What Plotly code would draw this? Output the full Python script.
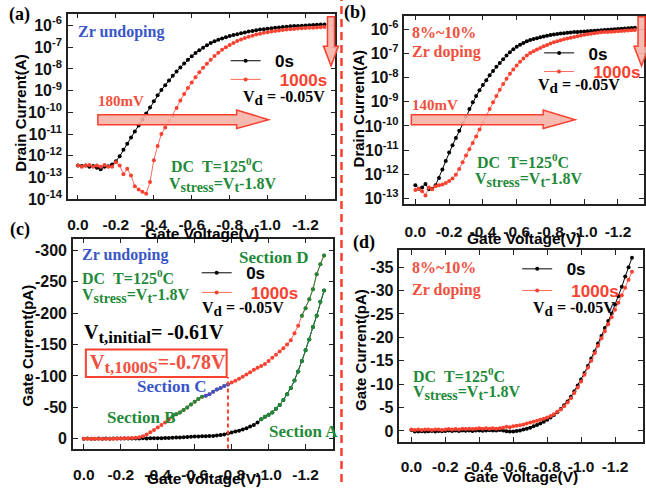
import numpy as np
import plotly.graph_objects as go

W, H = 646, 491
SANS = "Liberation Sans"
SERIF = "Liberation Serif"
RED = "#f8412f"
RED_LINE = "#ff6a58"
GREEN = "#1f8a3a"
BLUE = "#3a56c8"
TEXT_RED = "#f2503e"
AXIS = "#222222"

# Gate-voltage sweep (V)
VG = [0.00, -0.02, -0.04, -0.06, -0.08, -0.10, -0.12, -0.14, -0.16, -0.18,
      -0.20, -0.22, -0.24, -0.26, -0.28, -0.30, -0.32, -0.34, -0.36, -0.38,
      -0.40, -0.42, -0.44, -0.46, -0.48, -0.50, -0.52, -0.54, -0.56, -0.58,
      -0.60, -0.62, -0.64, -0.66, -0.68, -0.70, -0.72, -0.74, -0.76, -0.78,
      -0.80, -0.82, -0.84, -0.86, -0.88, -0.90, -0.92, -0.94, -0.96, -0.98,
      -1.00, -1.02, -1.04, -1.06, -1.08, -1.10, -1.12, -1.14, -1.16, -1.18,
      -1.20, -1.22, -1.24, -1.26, -1.28, -1.30]

# (a) Zr undoped: log10 of drain current (A)
LOG_ID_A_0S = [-12.45, -12.47, -12.45, -12.50, -12.47, -12.55, -12.62, -12.50, -12.48, -12.40,
               -12.25, -12.02, -11.72, -11.44, -11.16, -10.88, -10.60, -10.33, -10.05, -9.77,
               -9.49, -9.21, -8.97, -8.75, -8.53, -8.32, -8.12, -7.93, -7.75, -7.58,
               -7.42, -7.27, -7.14, -7.02, -6.91, -6.81, -6.73, -6.66, -6.60, -6.54,
               -6.49, -6.44, -6.40, -6.36, -6.32, -6.28, -6.25, -6.22, -6.19, -6.17,
               -6.15, -6.13, -6.11, -6.09, -6.07, -6.06, -6.04, -6.03, -6.02, -6.01,
               -6.00, -5.99, -5.98, -5.97, -5.96, -5.95]
LOG_ID_A_1000S = [-12.45, -12.50, -12.45, -12.42, -12.50, -12.45, -12.50, -12.42, -12.50, -12.50,
                  -12.30, -12.45, -12.85, -12.60, -12.90, -13.40, -13.55, -13.65, -13.75, -13.20,
                  -12.20, -11.55, -11.00, -10.70, -10.40, -10.15, -9.80, -9.45, -9.15, -8.88,
                  -8.62, -8.38, -8.15, -7.95, -7.76, -7.58, -7.41, -7.26, -7.12, -7.00,
                  -6.90, -6.81, -6.72, -6.65, -6.58, -6.52, -6.47, -6.42, -6.38, -6.34,
                  -6.31, -6.28, -6.25, -6.23, -6.21, -6.19, -6.17, -6.16, -6.14, -6.13,
                  -6.12, -6.11, -6.10, -6.09, -6.08, -6.07]

# (b) 8%~10% Zr doped: log10 of drain current (A)
LOG_ID_B_0S = [-12.45, -12.60, -12.55, -12.40, -12.62, -12.60, -12.45, -12.15, -11.80, -11.45,
               -11.10, -10.80, -10.50, -10.20, -9.90, -9.60, -9.30, -9.02, -8.76, -8.52,
               -8.30, -8.10, -7.90, -7.72, -7.55, -7.39, -7.23, -7.08, -6.94, -6.82,
               -6.72, -6.63, -6.56, -6.49, -6.44, -6.40, -6.36, -6.32, -6.29, -6.26,
               -6.23, -6.21, -6.19, -6.17, -6.16, -6.14, -6.13, -6.11, -6.10, -6.09,
               -6.08, -6.07, -6.06, -6.05, -6.04, -6.03, -6.02, -6.01, -6.00, -5.99,
               -5.98, -5.97, -5.96, -5.95, -5.94, -5.93]
LOG_ID_B_1000S = [-12.65, -12.60, -12.70, -12.88, -12.55, -12.62, -12.50, -12.45, -12.42, -12.36,
                  -12.28, -12.18, -12.02, -11.78, -11.50, -11.22, -10.96, -10.70, -10.43, -10.15,
                  -9.87, -9.58, -9.30, -9.02, -8.76, -8.50, -8.26, -8.04, -7.84, -7.66,
                  -7.49, -7.34, -7.20, -7.08, -6.98, -6.90, -6.83, -6.77, -6.70, -6.64,
                  -6.58, -6.53, -6.49, -6.45, -6.41, -6.37, -6.34, -6.31, -6.28, -6.25,
                  -6.22, -6.20, -6.18, -6.16, -6.14, -6.12, -6.11, -6.10, -6.09, -6.08,
                  -6.07, -6.06, -6.05, -6.04, -6.03, -6.02]

# (c) Zr undoped: gate current (pA)
IG_C_0S = [0.0, -0.5, -0.3, 0.0, -0.4, -0.2, -0.5, -0.3, -0.4, -0.5,
           -0.4, -0.6, -0.5, -0.6, -0.7, -0.6, -0.8, -0.7, -0.8, -0.9,
           -0.9, -1.0, -1.2, -1.5, -1.8, -2.0, -2.3, -2.6, -3.0, -3.3,
           -3.6, -3.8, -4.0, -4.2, -4.4, -4.6, -5.2, -6.0, -7.0, -8.5,
           -10.0, -11.5, -13.0, -15.0, -17.0, -19.5, -22.0, -26.0, -31.0, -35.0,
           -38.5, -42.0, -48.0, -54.0, -62.0, -71.0, -81.0, -93.0, -107.0, -124.0,
           -141.0, -158.0, -178.0, -196.0, -218.0, -236.0]
IG_C_1000S = [0.0, 0.0, 0.0, -0.3, 0.0, -0.2, 0.0, -0.3, -0.3, -0.5,
              -0.5, -0.8, -1.0, -1.3, -1.8, -2.5, -4.0, -7.0, -10.5, -14.0,
              -18.0, -22.0, -26.0, -30.5, -35.0, -39.0, -42.0, -46.0, -50.0, -54.5,
              -59.0, -63.5, -67.0, -68.5, -71.0, -75.0, -78.5, -81.0, -84.0, -86.5,
              -89.5, -92.5, -95.5, -99.0, -102.5, -106.0, -110.0, -113.0, -116.0, -119.0,
              -124.0, -129.0, -134.0, -139.0, -144.0, -150.0, -157.0, -168.0, -180.0, -196.0,
              -208.0, -222.0, -238.0, -262.0, -278.0, -292.0]

# (d) 8%~10% Zr doped: gate current (pA)
IG_D_0S = [-0.2, 0.1, 0.1, 0.05, 0.1, 0.05, 0.0, 0.1, 0.0, 0.05,
           0.0, -0.1, 0.0, -0.1, 0.0, -0.1, -0.05, -0.1, 0.0, -0.1,
           -0.1, -0.05, -0.1, -0.15, -0.1, -0.1, -0.2, -0.1, 0.05, 0.1,
           0.1, 0.0, -0.1, -0.3, -0.5, -0.7, -1.0, -1.3, -1.6, -2.0,
           -2.4, -2.9, -3.4, -4.0, -4.7, -5.5, -6.3, -7.3, -8.5, -9.7,
           -11.0, -12.4, -13.9, -15.5, -17.0, -18.7, -20.3, -22.0, -23.5, -25.1,
           -27.0, -28.8, -30.8, -33.0, -35.0, -37.0]
IG_D_1000S = [-0.3, -0.2, -0.3, -0.2, -0.3, -0.3, -0.2, -0.3, -0.3, -0.2,
              -0.3, -0.4, -0.3, -0.4, -0.3, -0.5, -0.4, -0.5, -0.4, -0.5,
              -0.6, -0.5, -0.6, -0.5, -0.6, -0.5, -0.6, -0.7, -0.9, -0.8,
              -1.0, -1.1, -1.2, -1.4, -1.6, -1.8, -2.0, -2.2, -2.4, -2.6,
              -2.9, -3.2, -3.6, -4.1, -4.6, -5.3, -6.1, -7.0, -8.1, -9.3,
              -10.6, -12.0, -13.5, -15.0, -16.6, -18.2, -19.8, -21.3, -22.8, -24.3,
              -25.9, -27.4, -29.0, -30.6, -32.3, -34.0]

# Highlighted sections of the (c) curves: (start V, end V)
SECTION_A = (-0.96, -1.30)   # on the 0s curve
SECTION_B = (-0.48, -0.64)   # on the 1000s curve
SECTION_C = (-0.66, -0.78)
SECTION_D = (-1.18, -1.30)
VT_INITIAL = -0.61
VT_1000S = -0.78

V_TICKS = [0.0, -0.2, -0.4, -0.6, -0.8, -1.0, -1.2]
V_TICK_TEXT = ["0.0", "-0.2", "-0.4", "-0.6", "-0.8", "-1.0", "-1.2"]
LOG_TICKS_A = [-14, -13, -12, -11, -10, -9, -8, -7, -6]
LOG_TICKS_B = [-13, -12, -11, -10, -9, -8, -7, -6]
IG_TICKS_C = [0, -50, -100, -150, -200, -250, -300]
IG_TICKS_D = [0, -5, -10, -15, -20, -25, -30, -35]


def fx(p):
    return p / W


def fy(p):
    return 1 - p / H


def section(values, bounds):
    hi, lo = bounds
    xs, ys = [], []
    for v, y in zip(VG, values):
        if lo - 1e-9 <= v <= hi + 1e-9:
            xs.append(v)
            ys.append(y)
    return xs, ys


fig = go.Figure()

BLACK_MARK = dict(size=4, color="black", symbol="circle")
RED_MARK = dict(size=4, color=RED, symbol="circle")
RED_NAME = f'<span style="color:{RED}">\u00a0\u00a0\u00a01000s</span>'
BLACK_NAME = "\u00a0\u00a00s"

panels = [
    ("x", "y", "legend", "legend2",
     [10 ** v for v in LOG_ID_A_0S], [10 ** v for v in LOG_ID_A_1000S]),
    ("x2", "y2", "legend3", "legend4",
     [10 ** v for v in LOG_ID_B_0S], [10 ** v for v in LOG_ID_B_1000S]),
    ("x3", "y3", "legend5", "legend6", IG_C_0S, IG_C_1000S),
    ("x4", "y4", "legend7", "legend8", IG_D_0S, IG_D_1000S),
]
for xa, ya, lg0, lg1, y0, y1 in panels:
    fig.add_trace(go.Scatter(x=VG, y=y0, xaxis=xa, yaxis=ya, mode="lines+markers",
                             line=dict(color="black", width=1), marker=BLACK_MARK,
                             name=BLACK_NAME, legend=lg0))
    fig.add_trace(go.Scatter(x=VG, y=y1, xaxis=xa, yaxis=ya, mode="lines+markers",
                             line=dict(color=RED_LINE, width=1), marker=RED_MARK,
                             name=RED_NAME, legend=lg1))

# coloured sections in (c)
for vals, bounds, col in [(IG_C_0S, SECTION_A, GREEN), (IG_C_1000S, SECTION_B, GREEN),
                          (IG_C_1000S, SECTION_C, BLUE), (IG_C_1000S, SECTION_D, GREEN)]:
    sx, sy = section(vals, bounds)
    fig.add_trace(go.Scatter(x=sx, y=sy, xaxis="x3", yaxis="y3", mode="lines+markers",
                             line=dict(color=col, width=1),
                             marker=dict(size=4, color=col), showlegend=False))

XTICKFONT = dict(family=SANS, size=15.5, color="#111111", weight="bold")
YTICKFONT = dict(family=SANS, size=16, color="#111111", weight="bold")


def xaxis(frame, rng, anchor, standoff):
    return dict(domain=[fx(frame[0]), fx(frame[1])], range=rng, anchor=anchor,
                tickvals=V_TICKS, ticktext=V_TICK_TEXT, tickfont=XTICKFONT,
                ticks="inside", ticklen=5, tickwidth=1.3, tickcolor=AXIS,
                showline=True, linecolor=AXIS, linewidth=1.5, mirror="ticks",
                showgrid=False, zeroline=False, ticklabelstandoff=standoff)


def yaxis(frame, rng, anchor, vals, text, typ="linear"):
    return dict(domain=[fy(frame[1]), fy(frame[0])], range=rng, anchor=anchor, type=typ,
                tickvals=vals, ticktext=text, tickfont=YTICKFONT,
                ticks="inside", ticklen=5, tickwidth=1.3, tickcolor=AXIS,
                showline=True, linecolor=AXIS, linewidth=1.5, mirror="ticks",
                showgrid=False, zeroline=False, ticklabelstandoff=1)


def sci(e):
    return f"10<sup>{e}</sup>"


fig.update_layout(
    xaxis=xaxis((67, 335), [0.053, -1.358], "y", 10),
    yaxis=yaxis((14, 203), [-14, -5.46], "x", [10.0 ** e for e in LOG_TICKS_A],
                [sci(e) for e in LOG_TICKS_A], "log"),
    xaxis2=xaxis((404, 644), [0.065, -1.354], "y2", 12),
    yaxis2=yaxis((16, 208), [-13.24, -5.43], "x2", [10.0 ** e for e in LOG_TICKS_B],
                 [sci(e) for e in LOG_TICKS_B], "log"),
    xaxis3=xaxis((72, 333), [0.059, -1.351], "y3", 11),
    yaxis3=yaxis((243, 457), [15.6, -318.8], "x3", IG_TICKS_C, [str(v) for v in IG_TICKS_C]),
    xaxis4=xaxis((399, 643), [0.071, -1.365], "y4", 10),
    yaxis4=yaxis((255, 450), [2.3, -38.6], "x4", IG_TICKS_D, [str(v) for v in IG_TICKS_D]),
)

LEGEND = dict(bgcolor="rgba(0,0,0,0)", xanchor="left", yanchor="top",
              font=dict(family=SANS, size=17, color="black", weight="bold"),
              itemwidth=30, tracegroupgap=0, borderwidth=0)
# one legend per row: (left x, row centre y) in pixels
LEGEND_ROWS = {
    "legend": (225, 61), "legend2": (225, 80),
    "legend3": (539, 53), "legend4": (539, 72),
    "legend5": (196, 277), "legend6": (196, 297),
    "legend7": (517, 273), "legend8": (517, 295),
}
fig.update_layout({k: dict(LEGEND, x=fx(x), y=fy(y - 17)) for k, (x, y) in LEGEND_ROWS.items()})

annotations = []


def note(text, x, y, size=16, color="black", family=SERIF, angle=0, anchor="left"):
    annotations.append(dict(text=text, x=fx(x), y=fy(y), xref="paper", yref="paper",
                            xanchor=anchor, yanchor="middle", showarrow=False,
                            textangle=angle,
                            font=dict(family=family, size=size, color=color, weight="bold")))


def sub(t, size):
    return f'<sub><span style="font-size:{size}px">{t}</span></sub>'


DC = "DC\u00a0\u00a0T=125<sup>0</sup>C"
VSTRESS = f"V{sub('stress', 14)}=V{sub('t', 14)}-1.8V"
VD = f"V{sub('d', 15)} = -0.05V"

# axis titles
for cx, cy in [(201, 238), (524, 243), (203, 487), (521, 485)]:
    note("Gate Voltage(V)", cx, cy, size=15.5, family=SANS, anchor="center")
note("Drain Current(A)", 20, 115, size=15, family=SANS, angle=-90, anchor="center")
note("Drain Current(A)", 359, 110, size=15, family=SANS, angle=-90, anchor="center")
note("Gate Current(pA)", 27, 352, size=15, family=SANS, angle=-90, anchor="center")
note("Gate Current(pA)", 360, 356, size=15, family=SANS, angle=-90, anchor="center")

# (a)
note("(a)", 6, 15, size=18)
note("Zr undoping", 75, 33, color=BLUE)
note(VD, 240, 100)
note("180mV", 95, 103, size=15, color=TEXT_RED)
note(DC, 168, 168, color=GREEN)
note(VSTRESS, 166, 188, color=GREEN)
# (b)
note("(b)", 342, 13, size=18)
note("8%~10%", 410, 33, color=TEXT_RED)
note("Zr doping", 410, 53, color=TEXT_RED)
note(VD, 536, 88)
note("140mV", 410, 107, size=15, color=TEXT_RED)
note(DC, 475, 164, color=GREEN)
note(VSTRESS, 473, 183, color=GREEN)
# (c)
note("(c)", 7, 234, size=18)
note("Zr undoping", 79, 260, color=BLUE)
note(DC, 79, 282, color=GREEN)
note(VSTRESS, 79, 302, color=GREEN)
note("Section D", 236, 262, size=17, color=GREEN)
note(VD, 199, 315)
note(f"V{sub('t,initial', 17)}= {VT_INITIAL:.2f}V", 81, 340, size=20)
note(f"V{sub('t,1000S', 17)}={VT_1000S:.2f}V", 87, 371, size=20, color=TEXT_RED)
note("Section C", 134, 394, size=17, color=BLUE)
note("Section B", 104, 425, size=17, color=GREEN)
note("Section A", 266, 440, size=17, color=GREEN)
# (d)
note("(d)", 351, 247, size=18)
note("8%~10%", 410, 273, color=TEXT_RED)
note("Zr doping", 410, 295, color=TEXT_RED)
note(VD, 531, 315)
note(DC, 411, 382, color=GREEN)
note(VSTRESS, 411, 400, color=GREEN)

fig.update_layout(annotations=annotations)


def path(points):
    return "M " + " L ".join(f"{fx(x):.5f},{fy(y):.5f}" for x, y in points) + " Z"


ARROW_FILL = "rgba(246,178,168,0.9)"
shapes = []
# horizontal shift arrows
for x0, x1, xh in [(97, 268, 236), (411, 575, 543)]:
    shapes.append(dict(type="path", xref="paper", yref="paper",
                       path=path([(x0, 117), (xh, 117), (xh, 112), (x1, 122),
                                  (xh, 131), (xh, 127), (x0, 127)]),
                       fillcolor=ARROW_FILL, line=dict(color=RED, width=1.5)))
# downward arrows at the saturation end
for cx in [330.5, 641.5]:
    shapes.append(dict(type="path", xref="paper", yref="paper",
                       path=path([(cx - 3.5, 17), (cx + 3.5, 17), (cx + 3.5, 47), (cx + 7.5, 47),
                                  (cx, 67), (cx - 7.5, 47), (cx - 3.5, 47)]),
                       fillcolor=ARROW_FILL, line=dict(color=RED, width=1.5)))
# separator between left and right columns
shapes.append(dict(type="line", xref="paper", yref="paper", x0=fx(341), x1=fx(341),
                   y0=0, y1=1, line=dict(color=RED, width=2.5, dash="8px,5px")))
# box around the stressed threshold voltage
shapes.append(dict(type="rect", xref="paper", yref="paper", x0=fx(85), x1=fx(226),
                   y0=fy(384), y1=fy(356), line=dict(color=RED, width=2)))
# dashed marker at the stressed threshold voltage
shapes.append(dict(type="line", xref="x3", yref="paper", x0=VT_1000S, x1=VT_1000S,
                   y0=fy(457), y1=fy(384), line=dict(color=RED, width=2, dash="4px,3px")))
fig.update_layout(shapes=shapes)

fig.update_layout(width=W, height=H, margin=dict(l=0, r=0, t=0, b=0),
                  paper_bgcolor="white", plot_bgcolor="white")

fig.write_html("out.html", config={"displayModeBar": False})
